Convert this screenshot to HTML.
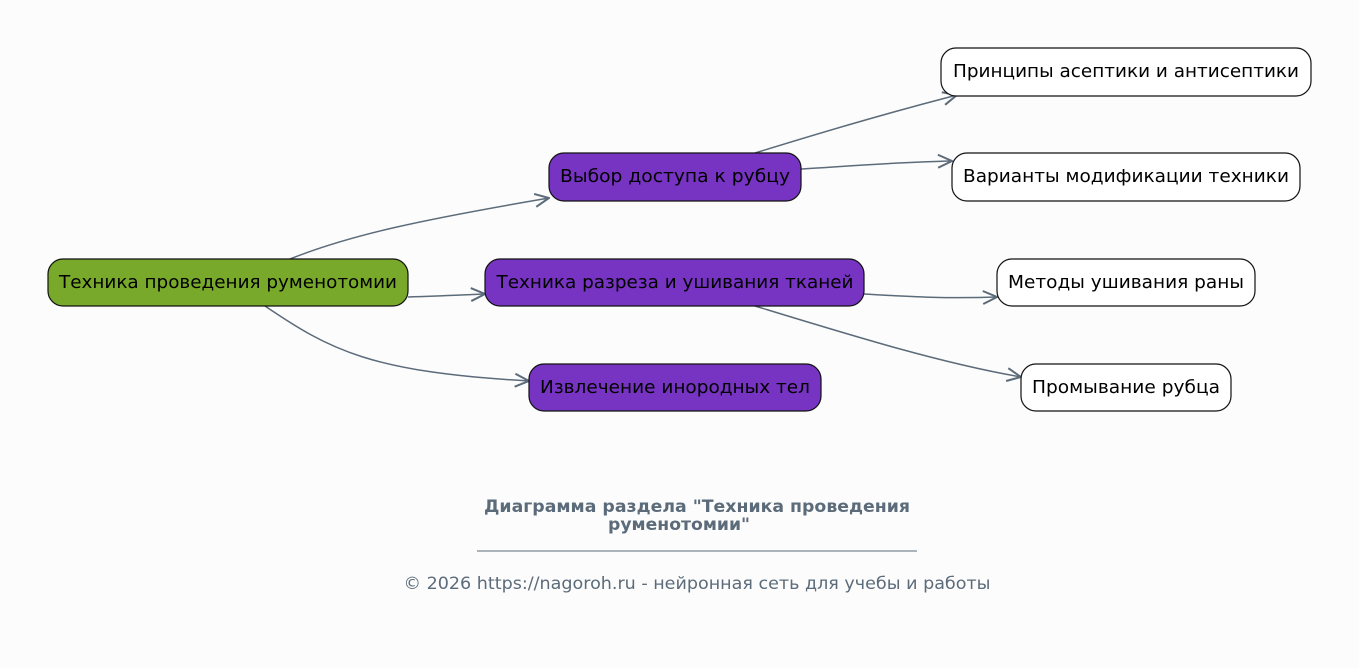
<!DOCTYPE html>
<html><head><meta charset="utf-8"><style>
html,body{margin:0;padding:0;background:#fcfcfc;}
svg{display:block;}
text{font-family:"DejaVu Sans","Liberation Sans",sans-serif;}
</style></head><body>
<svg width="1359" height="668" viewBox="0 0 1359 668" xmlns="http://www.w3.org/2000/svg">
<defs>
<marker id="a" viewBox="0 0 16 16" refX="15" refY="8" markerWidth="16" markerHeight="16" markerUnits="userSpaceOnUse" orient="auto">
<path d="M1,1.5 L15,8 L1,14.5" fill="none" stroke="#5c6b7a" stroke-width="2"/>
</marker>
</defs>
<g fill="none" stroke="#5c6b7a" stroke-width="1.5" marker-end="url(#a)">
<path d="M290,259 C350,235 420,220 549,198"/>
<path d="M408,297 C440,296 460,295 485,294"/>
<path d="M265,306 C330,350 370,372 529,381"/>
<path d="M755,153 C820,133 880,115 957,95"/>
<path d="M801,169 C850,166 900,162 952,161"/>
<path d="M864,294 C900,296 940,299 997,297"/>
<path d="M755,306 C850,335 940,363 1021,377"/>
</g>
<g stroke="#111" stroke-width="1.2">
<rect x="48" y="259" width="360" height="47" rx="15" fill="#78a92a"/>
<rect x="549" y="153" width="252" height="48" rx="15" fill="#7733c2"/>
<rect x="485" y="259" width="379" height="47" rx="15" fill="#7733c2"/>
<rect x="529" y="364" width="292" height="47" rx="15" fill="#7733c2"/>
<rect x="941" y="48" width="370" height="48" rx="15" fill="#fff"/>
<rect x="952" y="153" width="348" height="48" rx="15" fill="#fff"/>
<rect x="997" y="259" width="258" height="47" rx="15" fill="#fff"/>
<rect x="1021" y="364" width="210" height="47" rx="15" fill="#fff"/>
</g>
<g font-size="17.5" fill="#000" text-anchor="middle">
<text x="228" y="288" textLength="338" lengthAdjust="spacingAndGlyphs">Техника проведения руменотомии</text>
<text x="675" y="182" textLength="230" lengthAdjust="spacingAndGlyphs">Выбор доступа к рубцу</text>
<text x="675" y="288" textLength="357" lengthAdjust="spacingAndGlyphs">Техника разреза и ушивания тканей</text>
<text x="675" y="393" textLength="270" lengthAdjust="spacingAndGlyphs">Извлечение инородных тел</text>
<text x="1126" y="77" textLength="346" lengthAdjust="spacingAndGlyphs">Принципы асептики и антисептики</text>
<text x="1126" y="182" textLength="326" lengthAdjust="spacingAndGlyphs">Варианты модификации техники</text>
<text x="1126" y="288" textLength="236" lengthAdjust="spacingAndGlyphs">Методы ушивания раны</text>
<text x="1126" y="393" textLength="188" lengthAdjust="spacingAndGlyphs">Промывание рубца</text>
</g>
<g fill="#5c6b7a" text-anchor="middle">
<text x="697" y="512" font-size="16.5" font-weight="bold" textLength="426" lengthAdjust="spacingAndGlyphs">Диаграмма раздела "Техника проведения</text>
<text x="679" y="530" font-size="16.5" font-weight="bold" textLength="142" lengthAdjust="spacingAndGlyphs">руменотомии"</text>
<line x1="477" y1="551" x2="917" y2="551" stroke="#5c6b7a" stroke-width="1"/>
<text x="697" y="589" font-size="16.5" textLength="587" lengthAdjust="spacingAndGlyphs">© 2026 https://nagoroh.ru - нейронная сеть для учебы и работы</text>
</g>
</svg>
</body></html>
